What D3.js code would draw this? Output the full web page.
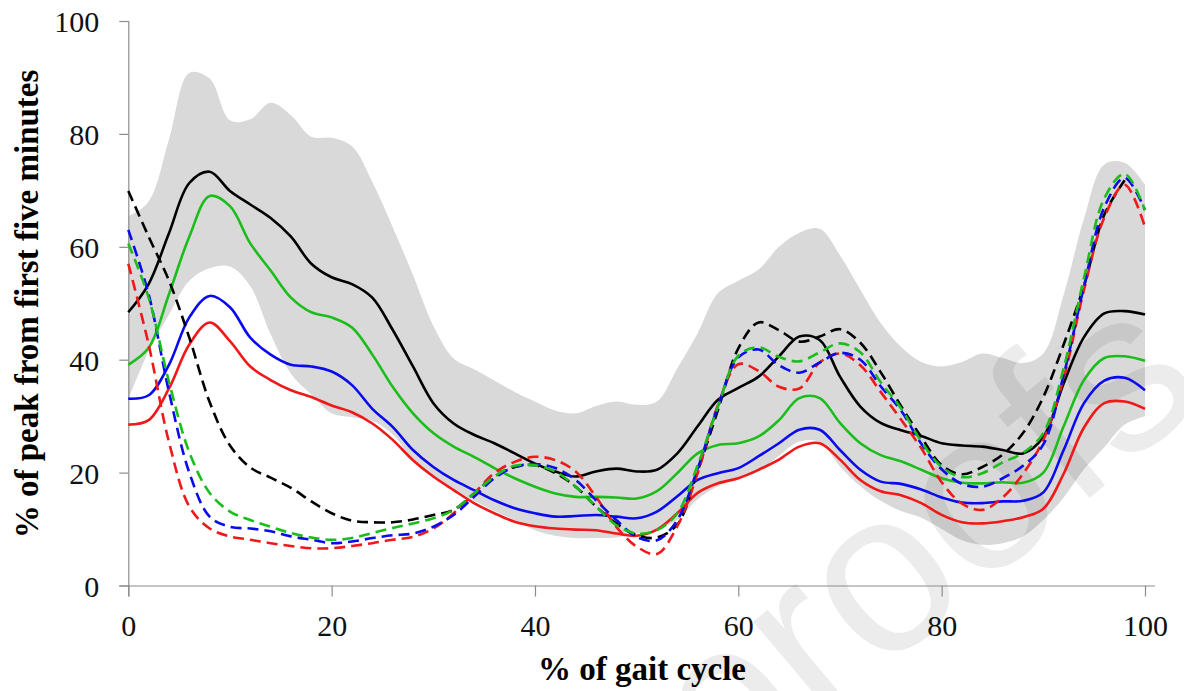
<!DOCTYPE html>
<html>
<head>
<meta charset="utf-8">
<script src="https://cdn.jsdelivr.net/npm/d3@7"></script>
<style>
  html, body { margin: 0; padding: 0; background: #fff; }
  svg { display: block; }
</style>
</head>
<body>
<svg id="chart" width="1184" height="691"></svg>
<script>
// ---- data ----
const gait = [0,2,4,6,8,10,12,14,16,18,20,22,24,26,28,30,32,34,36,38,40,42,44,46,48,50,
              52,54,56,58,60,62,64,66,68,70,72,74,76,78,80,82,84,86,88,90,92,94,96,98,100];

const bandUpper = [65.4,68.0,79.0,90.8,89.8,82.4,82.6,85.5,83.3,79.5,79.3,77.8,71.5,63.5,55.0,46.0,40.2,38.3,36.3,34.3,32.6,31.0,30.5,31.8,32.6,32.0,
                   32.6,38.5,44.7,51.8,54.0,56.0,60.0,62.5,63.2,58.5,52.4,46.5,42.3,39.6,38.8,39.6,41.1,40.3,39.4,41.1,51.5,65.0,74.6,74.9,71.0];
const bandLower = [33.0,41.5,48.0,54.0,56.2,56.5,53.0,44.5,37.5,33.8,30.5,29.8,29.2,26.8,22.3,19.2,16.8,15.0,13.2,11.6,9.8,8.8,8.4,8.4,8.5,9.2,
                   10.0,11.6,15.3,17.6,18.9,20.2,23.0,25.5,25.4,21.1,17.6,15.0,13.2,12.0,10.0,8.0,7.2,7.5,8.7,11.6,15.6,20.6,24.5,28.5,30.0];

const blackSolid = [48.4,53.4,62.4,71.3,73.3,69.9,67.5,65.1,61.8,57.0,54.6,53.4,51.0,45.3,38.8,32.3,28.7,26.7,25.2,23.4,21.6,20.2,19.3,20.2,20.7,20.2,
                    20.5,23.4,28.2,32.9,35.0,37.0,40.6,44.1,43.5,37.0,31.7,28.8,27.5,26.5,25.2,24.8,24.6,24.0,23.4,26.3,35.8,44.0,48.2,48.6,48.0];
const greenSolid = [39.1,42.1,51.6,61.8,69.0,67.2,60.6,55.8,51.0,48.4,47.5,45.7,40.9,35.2,30.5,27.0,24.6,22.8,20.8,19.0,17.5,16.3,15.7,15.7,15.6,15.4,
                    16.7,19.9,23.4,24.9,25.2,26.4,29.3,33.2,33.2,28.8,25.2,23.1,22.0,20.5,19.0,18.2,18.1,18.3,18.2,20.0,28.2,36.4,40.3,40.6,39.8];
const blueSolid  = [33.1,33.7,39.1,47.5,51.3,49.3,43.9,40.9,39.1,38.8,37.9,35.5,31.3,28.1,24.0,21.0,18.7,16.9,15.1,13.7,12.8,12.2,12.3,12.5,12.2,11.9,
                    13.1,15.8,18.7,19.9,20.8,22.9,25.2,27.6,27.6,24.0,20.5,18.4,18.0,17.0,15.6,14.7,14.6,14.9,15.0,16.5,24.0,32.3,36.3,36.8,34.6];
const redSolid   = [28.5,29.3,34.9,42.7,46.6,43.3,38.8,36.4,34.6,33.4,31.9,30.7,28.7,25.8,22.2,19.3,16.9,14.6,12.8,11.3,10.5,10.1,9.9,9.8,9.2,8.8,
                    9.9,12.8,16.4,18.1,19.0,20.5,22.3,24.6,25.2,22.3,18.7,16.7,16.0,14.6,12.5,11.2,11.0,11.4,12.1,13.6,19.8,28.0,32.3,32.6,31.3];

const blackDashed = [69.9,61.8,54.0,43.9,32.5,24.8,20.9,19.1,17.3,14.9,12.8,11.5,11.2,11.2,11.7,12.5,13.4,16.3,19.3,21.0,21.3,19.9,17.5,14.0,11.0,8.9,
                     8.5,10.8,20.3,31.1,42.0,46.6,45.2,43.2,44.1,45.4,43.0,37.8,31.8,26.3,21.3,19.7,21.0,23.2,27.0,33.4,42.7,53.1,65.7,71.8,null];
const greenDashed = [60.6,51.0,36.1,23.6,16.4,13.1,11.6,10.4,9.3,8.5,8.1,8.4,9.3,10.2,11.0,11.9,13.4,16.3,19.3,21.2,21.3,20.2,17.5,14.0,10.7,9.2,
                     9.8,12.8,21.3,31.7,40.7,42.2,40.5,39.7,41.3,42.9,41.3,36.0,31.4,25.5,21.0,19.2,19.9,21.8,23.5,27.0,38.5,54.5,68.6,72.9,66.5];
const blueDashed  = [63.0,51.6,34.3,20.0,12.2,10.4,10.1,9.6,8.7,8.1,7.5,7.8,8.4,8.9,9.2,10.4,12.5,15.7,19.0,21.0,21.5,20.8,18.7,15.1,11.6,8.6,
                     8.0,11.6,20.7,31.7,40.4,41.8,39.0,37.7,39.5,41.2,40.0,35.3,31.0,25.1,20.6,18.0,17.5,19.0,21.2,25.0,37.3,53.0,67.0,72.2,66.5];
const redDashed   = [57.0,42.7,25.4,14.0,10.1,8.7,8.1,7.5,7.0,6.6,6.6,7.0,7.5,8.1,8.6,10.1,12.8,16.3,19.9,21.9,22.8,22.2,20.2,15.7,10.4,6.9,
                     5.6,10.5,19.9,32.0,39.2,38.0,35.2,34.9,39.5,41.1,39.0,34.3,29.4,24.3,18.3,14.5,13.4,15.6,19.8,25.8,36.7,52.4,65.2,71.0,63.5];

const xTicks = [0, 20, 40, 60, 80, 100];
const yTicks = [0, 20, 40, 60, 80, 100];
const xTitle = "% of gait cycle";
const yTitle = "% of peak from first five minutes";
const watermark = "Journal Pre-proofs";

// ---- drawing ----
const svg = d3.select("#chart");
const x = d3.scaleLinear().domain([0, 100]).range([128.3, 1145]);
const y = d3.scaleLinear().domain([0, 100]).range([585.5, 21]);
const curve = d3.curveCatmullRom.alpha(0.5);

// grey band
const bandData = gait.map((g, i) => ({ g, lo: bandLower[i], hi: bandUpper[i] }));
svg.append("path")
  .datum(bandData)
  .attr("fill", "#d9d9d9")
  .attr("d", d3.area()
    .x(d => x(d.g))
    .y0(d => y(d.lo))
    .y1(d => y(d.hi))
    .curve(curve));

// watermark
svg.append("text")
  .attr("transform", "translate(1211,396) rotate(-40)")
  .attr("text-anchor", "end")
  .attr("font-family", "'Liberation Sans', Arial, sans-serif")
  .attr("font-size", 230)
  .attr("fill", "#000")
  .attr("fill-opacity", 0.075)
  .text(watermark);

// axes
const axisColor = "#8c8c8c";
const gx = svg.append("g").attr("transform", `translate(0,${y(0)})`)
  .call(d3.axisBottom(x).tickValues(xTicks).tickSize(11).tickFormat(d3.format("d")));
gx.select(".domain").attr("d", `M${x(0) - 9},0.5H1155`);
const gy = svg.append("g").attr("transform", `translate(${x(0)},0)`)
  .call(d3.axisLeft(y).tickValues(yTicks).tickSize(9).tickFormat(d3.format("d")));
gy.select(".domain").attr("d", `M0.5,${y(100)}V${y(0) + 11}`);

[gx, gy].forEach(g => {
  g.attr("font-family", "'Liberation Serif', 'Times New Roman', serif").attr("font-size", 30);
  g.selectAll(".domain").attr("stroke", axisColor).attr("stroke-width", 1.2).attr("fill", "none");
  g.selectAll(".tick line").attr("stroke", axisColor).attr("stroke-width", 1.2);
  g.selectAll(".tick text")
    .attr("font-family", "'Liberation Serif', 'Times New Roman', serif")
    .attr("font-size", 30)
    .attr("fill", "#111");
});
gx.selectAll(".tick text").attr("dy", null).attr("y", 50);
gy.selectAll(".tick text").attr("x", -29).attr("dy", "0.35em");

// series lines
const line = d3.line()
  .defined(d => d.v != null)
  .x(d => x(d.g))
  .y(d => y(d.v))
  .curve(curve);

const series = [
  { vals: blackSolid, color: "#000000", dash: null },
  { vals: greenSolid, color: "#1bbd1b", dash: null },
  { vals: blueSolid,  color: "#0a0af0", dash: null },
  { vals: redSolid,   color: "#f01818", dash: null },
  { vals: blackDashed, color: "#000000", dash: "11,6" },
  { vals: redDashed,   color: "#f01818", dash: "11,6" },
  { vals: blueDashed,  color: "#0a0af0", dash: "11,6" },
  { vals: greenDashed, color: "#1bbd1b", dash: "11,6" }
];

series.forEach(s => {
  svg.append("path")
    .datum(gait.map((g, i) => ({ g, v: s.vals[i] })))
    .attr("fill", "none")
    .attr("stroke", s.color)
    .attr("stroke-width", 2.6)
    .attr("stroke-linejoin", "round")
    .attr("stroke-dasharray", s.dash)
    .attr("d", line);
});

// titles
svg.append("text")
  .attr("x", 642)
  .attr("y", 680)
  .attr("text-anchor", "middle")
  .attr("font-family", "'Liberation Serif', 'Times New Roman', serif")
  .attr("font-weight", "bold")
  .attr("font-size", 33)
  .attr("fill", "#000")
  .text(xTitle);

svg.append("text")
  .attr("transform", "translate(38,304) rotate(-90)")
  .attr("text-anchor", "middle")
  .attr("font-family", "'Liberation Serif', 'Times New Roman', serif")
  .attr("font-weight", "bold")
  .attr("font-size", 33)
  .attr("fill", "#000")
  .text(yTitle);
</script>
</body>
</html>
